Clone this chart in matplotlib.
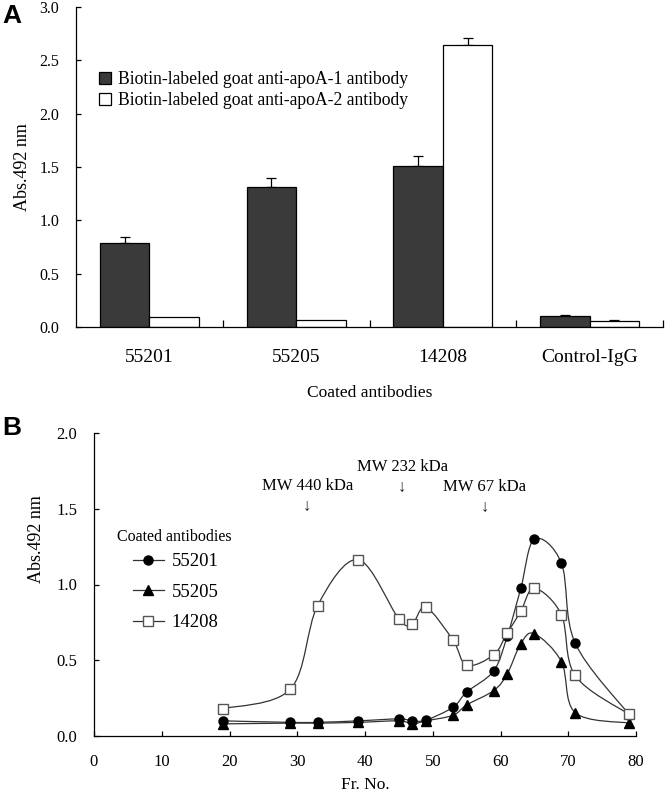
import matplotlib

matplotlib.use("Agg")
import matplotlib.pyplot as plt
import numpy as np
from matplotlib.lines import Line2D
from matplotlib.patches import PathPatch
from matplotlib.path import Path

plt.rcParams["font.family"] = ["Liberation Serif", "DejaVu Sans"]

# ---- panel A data ----
groups = ["55201", "55205", "14208", "Control-IgG"]
apoa1_mean = [0.785, 1.316, 1.505, 0.107]
apoa1_err = [0.063, 0.079, 0.094, 0.009]
apoa2_mean = [0.094, 0.069, 2.642, 0.057]
apoa2_err = [0.0, 0.0, 0.072, 0.012]
series_names = [
    "Biotin-labeled goat anti-apoA-1 antibody",
    "Biotin-labeled goat anti-apoA-2 antibody",
]

# ---- panel B data ----
fractions = [19, 29, 33, 39, 45, 47, 49, 53, 55, 59, 61, 63, 65, 69, 71, 79]
abs_55201 = [0.10, 0.09, 0.09, 0.10, 0.113, 0.10, 0.105, 0.19, 0.29, 0.43,
             0.66, 0.975, 1.30, 1.14, 0.615, 0.14]
abs_55205 = [0.08, 0.085, 0.085, 0.09, 0.10, 0.08, 0.10, 0.137, 0.205, 0.30,
             0.41, 0.61, 0.675, 0.49, 0.155, 0.085]
abs_14208 = [0.18, 0.31, 0.86, 1.164, 0.773, 0.742, 0.85, 0.632, 0.467, 0.536,
             0.68, 0.823, 0.975, 0.80, 0.40, 0.142]
mw_labels = ["MW 440 kDa", "MW 232 kDa", "MW 67 kDa"]
mw_fraction = [31.5, 45.5, 57.7]


def smooth_path(x, y):
    """Excel-style smoothed line through the points (cubic Bezier)."""
    pts = np.column_stack([x, y]).astype(float)
    n = len(pts)
    verts = [pts[0]]
    codes = [Path.MOVETO]
    for i in range(n - 1):
        p0 = pts[i - 1] if i > 0 else pts[i]
        p1, p2 = pts[i], pts[i + 1]
        p3 = pts[i + 2] if i + 2 < n else pts[i + 1]
        verts += [p1 + (p2 - p0) / 6, p2 - (p3 - p1) / 6, p2]
        codes += [Path.CURVE4] * 3
    return Path(verts, codes)


W, H = 670, 801
fig = plt.figure(figsize=(W / 100, H / 100), dpi=100)


def px_rect(left, top, right, bottom):
    return [left / W, 1 - bottom / H, (right - left) / W, (bottom - top) / H]


# ================= panel A =================
ax = fig.add_axes(px_rect(76, 7, 663, 327))
pos = np.arange(len(groups)) + 0.5
bw = 0.337
dark = "#3a3a3a"
ax.bar(pos - bw / 2, apoa1_mean, bw, color=dark, edgecolor="black", linewidth=0.9,
       label=series_names[0], zorder=2)
ax.bar(pos + bw / 2, apoa2_mean, bw, color="white", edgecolor="black", linewidth=0.9,
       label=series_names[1], zorder=2)
for offs, means, errs in [(-bw / 2, apoa1_mean, apoa1_err), (bw / 2, apoa2_mean, apoa2_err)]:
    for p, m, e in zip(pos, means, errs):
        if e > 0:
            ax.errorbar(p + offs, m, yerr=[[0], [e]], fmt="none", ecolor="black",
                        elinewidth=0.9, capsize=3.5, capthick=0.9, zorder=1)

ax.set_xlim(0, len(groups))
ax.set_ylim(0, 3.0)
ax.set_yticks(np.arange(0, 3.01, 0.5))
ax.set_yticklabels([f"{v:.1f}" for v in np.arange(0, 3.01, 0.5)], fontsize=11.5)
ax.set_xticks(pos)
ax.set_xticklabels(groups, fontsize=14)
ax.set_xticks(np.arange(1, len(groups) + 1), minor=True)
ax.tick_params(axis="x", which="major", length=0, pad=16)
ax.tick_params(axis="x", which="minor", direction="in", length=5, width=0.9)
ax.tick_params(axis="y", direction="in", length=3.6, width=0.9, pad=12)
for s in ["top", "right"]:
    ax.spines[s].set_visible(False)
for s in ["left", "bottom"]:
    ax.spines[s].set_linewidth(0.9)
ax.set_ylabel("Abs.492 nm", fontsize=13)
ax.yaxis.set_label_coords(-0.077, 0.5)
ax.set_xlabel("Coated antibodies", fontsize=12.5)
ax.xaxis.set_label_coords(0.5, -0.182)
ax.legend(loc="upper left", bbox_to_anchor=(99 / W, 1 - 71 / H),
          bbox_transform=fig.transFigure, frameon=False, fontsize=12.7,
          handlelength=0.7, handleheight=0.7, handletextpad=0.4,
          labelspacing=0.22, borderpad=0, borderaxespad=0)
fig.text(2 / W, 1 - 16 / H, "A", fontsize=19, fontweight="bold",
         family="Liberation Sans", va="center", ha="left")

# ================= panel B =================
bx = fig.add_axes(px_rect(94, 433, 636, 736))
line_col = "#333333"
styles = [
    ("55201", abs_55201, dict(marker="o", mfc="black", mec="black", ms=6.5)),
    ("55205", abs_55205, dict(marker="^", mfc="black", mec="black", ms=7)),
    ("14208", abs_14208, dict(marker="s", mfc="white", mec="#555555", ms=6.5, mew=1.0)),
]
handles = []
for name, vals, mk in styles:
    bx.add_patch(PathPatch(smooth_path(fractions, vals), facecolor="none",
                           edgecolor=line_col, linewidth=0.9, zorder=2))
    bx.plot(fractions, vals, linestyle="none", zorder=3, **mk)
    handles.append(Line2D([], [], color=line_col, linewidth=0.9, **mk))

bx.set_xlim(0, 80)
bx.set_ylim(0, 2.0)
bx.set_xticks(np.arange(0, 81, 10))
bx.set_xticklabels([str(v) for v in range(0, 81, 10)], fontsize=12)
bx.set_yticks(np.arange(0, 2.01, 0.5))
bx.set_yticklabels([f"{v:.1f}" for v in np.arange(0, 2.01, 0.5)], fontsize=12)
bx.tick_params(axis="x", direction="in", length=3.6, width=0.9, pad=13)
bx.tick_params(axis="y", direction="in", length=3.6, width=0.9, pad=12)
for s in ["top", "right"]:
    bx.spines[s].set_visible(False)
for s in ["left", "bottom"]:
    bx.spines[s].set_linewidth(0.9)
bx.set_ylabel("Abs.492 nm", fontsize=13)
bx.yaxis.set_label_coords(-0.09, 0.65)
bx.set_xlabel("Fr. No.", fontsize=12.5)
bx.xaxis.set_label_coords(0.5, -0.135)

fig.text(117 / W, 1 - 537 / H, "Coated antibodies", fontsize=11.5, va="center", ha="left")
bx.legend(handles, [s[0] for s in styles], loc="upper left",
          bbox_to_anchor=(133 / W, 1 - 553 / H), bbox_transform=fig.transFigure,
          frameon=False, fontsize=13.5, handlelength=1.65, handletextpad=0.4,
          labelspacing=0.72, borderpad=0, borderaxespad=0)

mw_text_y = [486, 467, 487]
for lab, fr, ty in zip(mw_labels, mw_fraction, mw_text_y):
    xpix = 94 + fr * (636 - 94) / 80
    fig.text(xpix / W, 1 - ty / H, lab, fontsize=12, ha="center", va="center")
    fig.text(xpix / W, 1 - (ty + 21) / H, "\u2193", fontsize=12, ha="center",
             va="center", color="#222222")
fig.text(2 / W, 1 - 428 / H, "B", fontsize=19, fontweight="bold",
         family="Liberation Sans", va="center", ha="left")

fig.savefig("out.png", dpi=100)
